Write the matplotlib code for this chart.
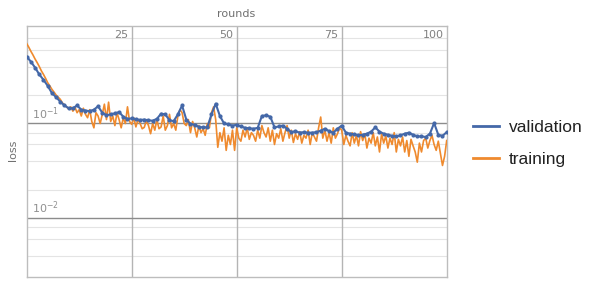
import numpy as np
import matplotlib
matplotlib.use("Agg")
import matplotlib.pyplot as plt
import matplotlib.transforms as mtransforms

rounds = list(range(0, 101))

validation = [
    0.51, 0.45, 0.39, 0.33, 0.29, 0.25, 0.21, 0.19, 0.17, 0.155,
    0.145, 0.145, 0.155, 0.14, 0.137, 0.135, 0.14, 0.152, 0.13, 0.122,
    0.125, 0.128, 0.132, 0.118, 0.112, 0.113, 0.111, 0.109, 0.110, 0.108,
    0.107, 0.112, 0.127, 0.125, 0.108, 0.106, 0.125, 0.155, 0.110, 0.099,
    0.097, 0.092, 0.091, 0.091, 0.125, 0.162, 0.120, 0.100, 0.098, 0.095,
    0.097, 0.093, 0.090, 0.089, 0.088, 0.090, 0.120, 0.122, 0.118, 0.091,
    0.093, 0.095, 0.088, 0.081, 0.083, 0.080, 0.081, 0.080, 0.080, 0.081,
    0.084, 0.088, 0.083, 0.080, 0.088, 0.095, 0.080, 0.078, 0.077, 0.075,
    0.076, 0.078, 0.082, 0.091, 0.082, 0.078, 0.076, 0.074, 0.073, 0.075,
    0.078, 0.080, 0.076, 0.073, 0.073, 0.072, 0.078, 0.101, 0.076, 0.074,
    0.081,
]

# training loss is logged every half round
training_rounds = [i / 2 for i in range(201)]
training = [
    0.70, 0.64, 0.58, 0.53, 0.48, 0.44, 0.40, 0.36, 0.33, 0.30,
    0.27, 0.25, 0.23, 0.215, 0.20, 0.19, 0.18, 0.165, 0.158, 0.15,
    0.142, 0.15, 0.135, 0.148, 0.13, 0.14, 0.12, 0.145, 0.125, 0.115,
    0.14, 0.105, 0.09, 0.13, 0.12, 0.10, 0.125, 0.16, 0.11, 0.168,
    0.105, 0.12, 0.095, 0.13, 0.11, 0.09, 0.115, 0.10, 0.15, 0.105,
    0.098, 0.115, 0.092, 0.11, 0.10, 0.088, 0.091, 0.108, 0.095, 0.078,
    0.10, 0.085, 0.11, 0.088, 0.092, 0.12, 0.085, 0.095, 0.125, 0.09,
    0.10, 0.085, 0.12, 0.14, 0.13, 0.10, 0.095, 0.11, 0.08, 0.105,
    0.09, 0.072, 0.095, 0.08, 0.088, 0.075, 0.10, 0.09, 0.13, 0.15,
    0.11, 0.056, 0.08, 0.065, 0.09, 0.052, 0.075, 0.06, 0.085, 0.052,
    0.09, 0.07, 0.065, 0.085, 0.072, 0.09, 0.068, 0.08, 0.075, 0.065,
    0.085, 0.07, 0.095, 0.08, 0.072, 0.09, 0.065, 0.085, 0.06, 0.078,
    0.07, 0.088, 0.065, 0.08, 0.095, 0.07, 0.085, 0.063, 0.078, 0.068,
    0.082, 0.062, 0.075, 0.07, 0.085, 0.06, 0.08, 0.072, 0.065, 0.09,
    0.117, 0.07, 0.085, 0.065, 0.08, 0.062, 0.09, 0.07, 0.078, 0.09,
    0.085, 0.06, 0.075, 0.065, 0.058, 0.08, 0.062, 0.075, 0.058, 0.082,
    0.066, 0.078, 0.055, 0.07, 0.062, 0.08, 0.058, 0.072, 0.05, 0.078,
    0.062, 0.074, 0.055, 0.07, 0.06, 0.08, 0.05, 0.068, 0.058, 0.072,
    0.05, 0.066, 0.045, 0.068, 0.058, 0.05, 0.039, 0.062, 0.05, 0.066,
    0.07, 0.055, 0.066, 0.075, 0.06, 0.052, 0.065, 0.048, 0.036, 0.045,
    0.066,
]

x_ticks = [25, 50, 75, 100]
y_major = [0.1, 0.01]
y_major_labels = [r"$10^{-1}$", r"$10^{-2}$"]
series_names = ["validation", "training"]

BLUE = "#4468a8"
ORANGE = "#ef8a2e"

fig = plt.figure(figsize=(5.89, 2.86), dpi=100)
ax = fig.add_axes([0.0453, 0.0325, 0.7131, 0.8775])

ax.set_yscale("log")
ax.set_xlim(0, 100)
ax.set_ylim(0.0024, 1.08)

# grid lines
for t in x_ticks[:-1]:
    ax.axvline(t, color="#b4b4b4", lw=1.0, zorder=1)
minor_vals = []
for dec in [0.001, 0.01, 0.1, 1.0]:
    for m in [2, 4, 6, 8]:
        minor_vals.append(dec * m)
for v in minor_vals:
    ax.axhline(v, color="#e4e4e4", lw=0.8, zorder=0.5)
for v in y_major:
    ax.axhline(v, color="#8c8c8c", lw=1.0, zorder=1)

ax.set_xticks([])
ax.set_yticks([])
ax.minorticks_off()
for s in ax.spines.values():
    s.set_color("#bdbdbd")
    s.set_linewidth(1.0)

trans = mtransforms.blended_transform_factory(ax.transData, ax.transAxes)
for t in x_ticks:
    ax.text(t - 0.8, 0.985, str(t), transform=trans, ha="right", va="top",
            fontsize=8, color="#808080")
trans2 = mtransforms.blended_transform_factory(ax.transAxes, ax.transData)
for v, lab in zip(y_major, y_major_labels):
    ax.text(0.012, v * 1.04, lab, transform=trans2, ha="left", va="bottom",
            fontsize=8, color="#909090")

ax.plot(training_rounds, training, color=ORANGE, lw=1.2, zorder=3,
        label=series_names[1])
ax.plot(rounds, validation, color=BLUE, lw=1.5, marker="o", markersize=2.0,
        zorder=4, label=series_names[0])

fig.text(236 / 589, 1 - 14 / 286, "rounds", ha="center", va="center",
         fontsize=8, color="#707070")
fig.text(13 / 589, 1 - 150 / 286, "loss", ha="center", va="center",
         rotation=90, fontsize=8, color="#707070")

handles, labels = ax.get_legend_handles_labels()
order = [1, 0]
leg = fig.legend([handles[i] for i in order], [labels[i] for i in order],
                 loc="upper left", bbox_to_anchor=(464 / 589, 1 - 111 / 286),
                 frameon=False, handlelength=1.5,
                 handletextpad=0.6, labelspacing=1.0, borderpad=0,
                 prop={"family": "Liberation Sans", "size": 12.5})
for line in leg.get_lines():
    line.set_marker("")
    line.set_linewidth(2.0)
for txt in leg.get_texts():
    txt.set_color("#222222")

fig.savefig("out.png", dpi=100)
